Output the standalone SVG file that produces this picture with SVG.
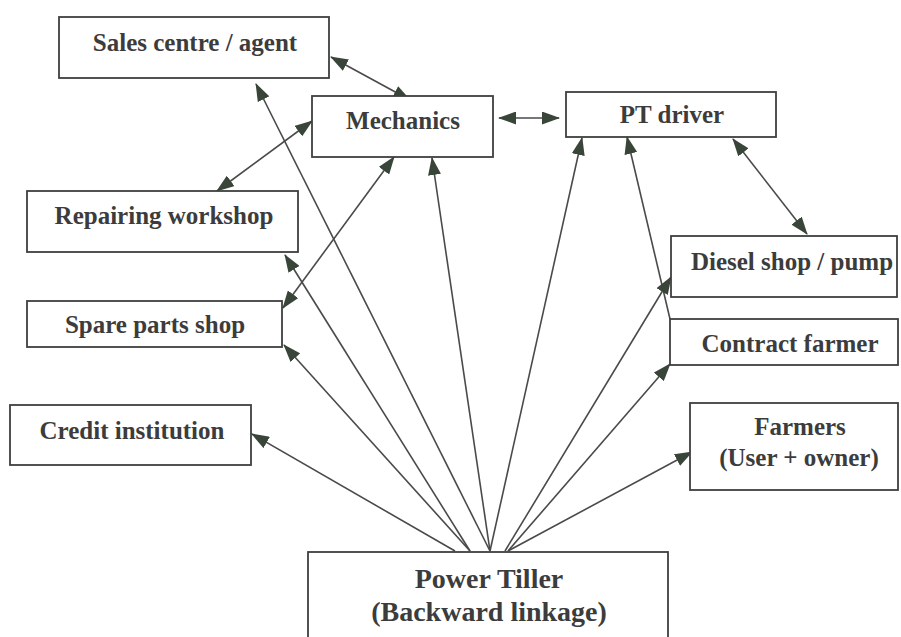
<svg xmlns="http://www.w3.org/2000/svg" width="901" height="637" viewBox="0 0 901 637">
  <style>
    .box { fill: #ffffff; stroke: #3f3f3f; stroke-width: 1.8; }
    .lbl { font-family: "Liberation Serif", "Times New Roman", serif; font-weight: bold; font-size: 25px; fill: #3c3c3c; text-anchor: middle; }
    .big { font-size: 28px; }
    .link { fill: none; stroke: #4a4a4a; stroke-width: 1.6; }
    .one { marker-end: url(#head); }
    .two { marker-start: url(#head); marker-end: url(#head); }
  </style>
  <defs>
    <marker id="head" viewBox="0 0 18 13" refX="17" refY="6.5" markerWidth="18" markerHeight="13" markerUnits="userSpaceOnUse" orient="auto-start-reverse">
      <path d="M0,0 L18,6.5 L0,13 Z" fill="#394539"/>
    </marker>
  </defs>
  <rect width="901" height="637" fill="#ffffff"/>

  <!-- connectors -->
  <g id="connectors">
    <line class="link two" x1="331" y1="57" x2="410" y2="100"/>
    <line class="link two" x1="312" y1="121" x2="217" y2="191"/>
    <line class="link two" x1="394" y1="157" x2="283" y2="308"/>
    <line class="link two" x1="499" y1="118" x2="559" y2="118"/>
    <line class="link two" x1="733" y1="139" x2="807" y2="234"/>
    <line class="link one" x1="670" y1="319" x2="627" y2="137"/>
    <line class="link one" x1="455" y1="551" x2="252" y2="434"/>
    <line class="link one" x1="470" y1="551" x2="284" y2="345"/>
    <line class="link one" x1="470" y1="551" x2="285" y2="255"/>
    <line class="link one" x1="490" y1="551" x2="256" y2="84"/>
    <line class="link one" x1="490" y1="551" x2="432" y2="158"/>
    <line class="link one" x1="490" y1="551" x2="582" y2="138"/>
    <line class="link one" x1="505" y1="551" x2="671" y2="277"/>
    <line class="link one" x1="508" y1="551" x2="670" y2="364"/>
    <line class="link one" x1="508" y1="551" x2="692" y2="452"/>
  </g>

  <!-- nodes -->
  <g id="sales-centre">
    <rect class="box" x="59" y="17" width="270" height="61"/>
    <text class="lbl" x="195" y="51">Sales centre / agent</text>
  </g>
  <g id="mechanics">
    <rect class="box" x="312" y="96" width="181" height="61"/>
    <text class="lbl" x="403" y="129">Mechanics</text>
  </g>
  <g id="pt-driver">
    <rect class="box" x="566" y="92" width="210" height="45"/>
    <text class="lbl" x="672" y="123">PT driver</text>
  </g>
  <g id="repairing-workshop">
    <rect class="box" x="27" y="191" width="271" height="61"/>
    <text class="lbl" x="164" y="224">Repairing workshop</text>
  </g>
  <g id="diesel-shop">
    <rect class="box" x="671" y="236" width="226" height="61"/>
    <text class="lbl" x="792" y="270">Diesel shop / pump</text>
  </g>
  <g id="spare-parts">
    <rect class="box" x="27" y="301" width="255" height="46"/>
    <text class="lbl" x="155" y="333">Spare parts shop</text>
  </g>
  <g id="contract-farmer">
    <rect class="box" x="670" y="319" width="228" height="46"/>
    <text class="lbl" x="790" y="352">Contract farmer</text>
  </g>
  <g id="credit-institution">
    <rect class="box" x="10" y="405" width="241" height="60"/>
    <text class="lbl" x="132" y="439">Credit institution</text>
  </g>
  <g id="farmers">
    <rect class="box" x="690" y="403" width="208" height="87"/>
    <text class="lbl" x="800" y="435">Farmers</text>
    <text class="lbl" x="799" y="466">(User + owner)</text>
  </g>
  <g id="power-tiller">
    <rect class="box" x="308" y="552" width="360" height="92"/>
    <text class="lbl big" x="489" y="588">Power Tiller</text>
    <text class="lbl big" x="489" y="621">(Backward linkage)</text>
  </g>
</svg>
